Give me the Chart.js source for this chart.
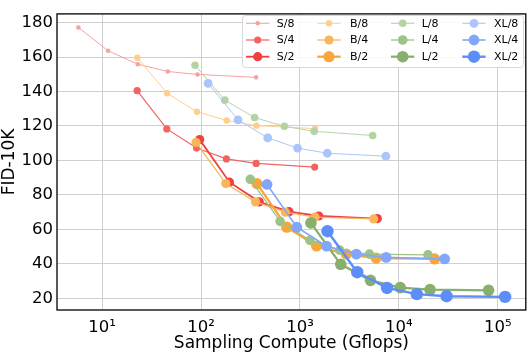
<!DOCTYPE html>
<html>
<head>
<meta charset="utf-8">
<script src="https://cdn.jsdelivr.net/npm/chart.js@4.4.0/dist/chart.umd.min.js"></script>
<style>
  html, body { margin: 0; padding: 0; background: #fff; }
  canvas { display: block; }
</style>
</head>
<body>
<canvas id="c" width="532" height="358"></canvas>
<script>
// ---- Data (sampling compute in Gflops, FID-10K) ----
const seriesNames = ['S/8','S/4','S/2','B/8','B/4','B/2','L/8','L/4','L/2','XL/8','XL/4','XL/2'];

const computeS8  = [5.76, 11.5, 23.0, 46.1, 92.2, 360];
const fidS8      = [177.1, 163.6, 155.8, 151.6, 149.9, 148.2];
const computeS4  = [22.6, 45.1, 90.2, 180.5, 361, 1410];
const fidS4      = [140.5, 118.3, 107.2, 100.9, 98.3, 96.2];
const computeS2  = [97, 194, 388, 776, 1551, 6060];
const fidS2      = [112.1, 87.4, 76.0, 70.3, 67.8, 66.3];

const computeB8  = [22.7, 45.4, 90.9, 181.8, 363.5, 1420];
const fidB8      = [159.6, 139.0, 128.3, 123.2, 120.2, 118.5];
const computeB4  = [89, 178, 356, 712, 1423, 5560];
const fidB4      = [110.5, 86.6, 76.0, 70.0, 67.2, 66.1];
const computeB2  = [368, 736, 1473, 2945, 5891, 23010];
const fidB2      = [86.6, 61.3, 50.4, 45.7, 43.4, 42.9];

const computeL8  = [87, 174, 348, 696, 1393, 5440];
const fidL8      = [155.2, 135.0, 124.9, 119.8, 116.9, 114.5];
const computeL4  = [315, 630, 1261, 2522, 5043, 19700];
const fidL4      = [89.1, 64.7, 53.7, 48.0, 45.7, 45.3];
const computeL2  = [1291, 2583, 5165, 10331, 20662, 80710];
const fidL2      = [63.8, 39.8, 30.5, 26.3, 25.1, 24.7];

const computeXL8 = [118, 236.5, 473, 946, 1892, 7390];
const fidXL8     = [144.7, 123.6, 113.1, 107.2, 104.2, 102.5];
const computeXL4 = [465, 930, 1859, 3718, 7437, 29050];
const fidXL4     = [86.1, 61.3, 50.3, 45.7, 43.8, 42.9];
const computeXL2 = [1898, 3796, 7593, 15186, 30372, 118640];
const fidXL2     = [59.0, 35.2, 26.1, 22.5, 21.3, 20.9];

const xTickValues = [10, 100, 1000, 10000, 100000];
const xTickLabels = ['10\u00B9', '10\u00B2', '10\u00B3', '10\u2074', '10\u2075'];
const yTickValues = [20, 40, 60, 80, 100, 120, 140, 160, 180];

// ---- Styles ----
const colors = ['#f8a0a0','#f46262','#f04040',
                '#fccf8f','#f9b55a','#f7a73a',
                '#b4d3a4','#9ec287','#86b06b',
                '#abc5fb','#82a7f9','#5b8ef8'];
const radii  = [2.3, 3.6, 4.6, 3.2, 4.6, 5.6, 3.8, 4.8, 5.8, 4.4, 5.4, 6.2];
const widths = [1, 1.2, 1.8, 1, 1.3, 2.3, 1, 1.3, 2.3, 1, 1.6, 2.4];

const xs = [computeS8, computeS4, computeS2, computeB8, computeB4, computeB2,
            computeL8, computeL4, computeL2, computeXL8, computeXL4, computeXL2];
const ys = [fidS8, fidS4, fidS2, fidB8, fidB4, fidB2,
            fidL8, fidL4, fidL2, fidXL8, fidXL4, fidXL2];

const datasets = seriesNames.map((name, i) => ({
  label: name,
  data: xs[i].map((x, j) => ({x: x, y: ys[i][j]})),
  borderColor: colors[i],
  backgroundColor: colors[i],
  pointBackgroundColor: colors[i],
  pointBorderColor: colors[i],
  pointBorderWidth: 0,
  pointRadius: radii[i],
  borderWidth: widths[i],
  showLine: true,
  tension: 0,
  order: -i
}));

const FONT = "'DejaVu Sans', sans-serif";

// Frame + legend plugin
const framePlugin = {
  id: 'frame',
  afterDraw(chart) {
    const {ctx, chartArea: a} = chart;
    ctx.save();
    ctx.strokeStyle = '#000';
    ctx.lineWidth = 1.3;
    ctx.strokeRect(a.left, a.top, a.right - a.left, a.bottom - a.top);
    ctx.restore();

    // legend
    const bx = 242.5, by = 15.5, bw = 281, bh = 52;
    ctx.save();
    ctx.beginPath();
    ctx.roundRect(bx, by, bw, bh, 3);
    ctx.fillStyle = 'rgba(255,255,255,0.85)';
    ctx.fill();
    ctx.strokeStyle = '#d8d8d8';
    ctx.lineWidth = 1;
    ctx.stroke();
    const colX = [246, 317.3, 391, 462.3];
    const rowY = [23.3, 40, 56.7];
    const textOff = [30.7, 32.7, 30.7, 31.7];
    ctx.font = '11px ' + FONT;
    ctx.textBaseline = 'middle';
    ctx.textAlign = 'left';
    chart.data.datasets.forEach((ds, i) => {
      const c = Math.floor(i / 3), r = i % 3;
      const x0 = colX[c], y0 = rowY[r];
      ctx.strokeStyle = ds.borderColor;
      ctx.lineWidth = ds.borderWidth;
      ctx.beginPath();
      ctx.moveTo(x0, y0);
      ctx.lineTo(x0 + 23.3, y0);
      ctx.stroke();
      ctx.fillStyle = ds.backgroundColor;
      ctx.beginPath();
      ctx.arc(x0 + 11.7, y0, ds.pointRadius, 0, Math.PI * 2);
      ctx.fill();
      ctx.fillStyle = '#000';
      ctx.fillText(ds.label, x0 + textOff[c], y0 + 0.5);
    });
    ctx.restore();
  }
};

new Chart(document.getElementById('c'), {
  type: 'line',
  data: { datasets: datasets },
  options: {
    responsive: false,
    animation: false,
    layout: { padding: { top: 9.5, right: 3, left: 0, bottom: 0 } },
    plugins: { legend: { display: false }, tooltip: { enabled: false } },
    elements: { line: { fill: false } },
    scales: {
      x: {
        type: 'logarithmic',
        min: 3.5,
        max: 192000,
        afterBuildTicks: s => { s.ticks = xTickValues.map(v => ({value: v})); },
        afterFit: s => { s.height = 48; },
        grid: { color: '#cfcfcf', lineWidth: 1, drawTicks: false },
        border: { display: false },
        ticks: {
          color: '#000',
          font: { family: FONT, size: 16.5 },
          padding: 8,
          maxRotation: 0,
          autoSkip: false,
          callback: (v) => { const k = xTickValues.indexOf(v); return k >= 0 ? xTickLabels[k] : ''; }
        },
        title: {
          display: true,
          text: 'Sampling Compute (Gflops)',
          color: '#000',
          font: { family: FONT, size: 17, lineHeight: 1.1 },
          padding: { top: 0, bottom: 5.5 }
        }
      },
      y: {
        type: 'linear',
        min: 13.3,
        max: 185,
        afterBuildTicks: s => { s.ticks = yTickValues.map(v => ({value: v})); },
        afterFit: s => { s.width = 57; },
        grid: { color: '#cfcfcf', lineWidth: 1, drawTicks: false },
        border: { display: false },
        ticks: {
          color: '#000',
          font: { family: FONT, size: 16.5 },
          padding: 4,
          autoSkip: false
        },
        title: {
          display: true,
          text: 'FID-10K',
          color: '#000',
          font: { family: FONT, size: 17, lineHeight: 1.1 },
          padding: { top: 0, bottom: 0 }
        }
      }
    }
  },
  plugins: [framePlugin]
});
</script>
</body>
</html>
